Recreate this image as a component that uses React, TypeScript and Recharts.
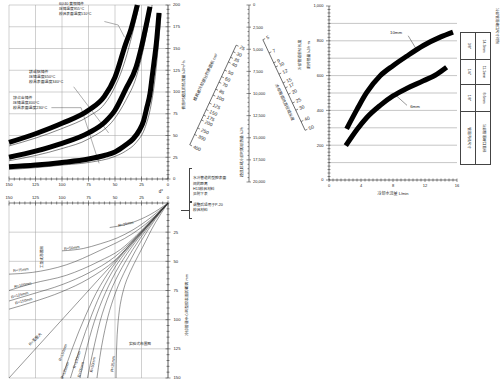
import React from 'react';
import { LineChart, Line, XAxis, YAxis, ReferenceLine } from 'recharts';

const FONT = "'Liberation Sans', 'Noto Sans CJK SC', sans-serif";
const INK = '#222';
const GRID = '#a0a0a0';

// ---------- top-left: mould heat flux vs distance d ----------
const dLabels = [0, 25, 50, 75, 100, 125, 150];
const fluxLabels = [0, 25, 50, 75, 100, 125, 150, 175, 200];

const brass = [
  { d: 150, q: 42 }, { d: 125, q: 52 }, { d: 100, q: 64 }, { d: 75, q: 79 }, { d: 60, q: 95 },
  { d: 50, q: 117 }, { d: 40, q: 155 }, { d: 35, q: 172 }, { d: 29, q: 200 },
];
const lightAlloy = [
  { d: 150, q: 25 }, { d: 125, q: 32 }, { d: 100, q: 41 }, { d: 75, q: 53 }, { d: 60, q: 65 },
  { d: 50, q: 79 }, { d: 40, q: 103 }, { d: 30, q: 129 }, { d: 25, q: 152 }, { d: 20, q: 180 }, { d: 17, q: 198 },
];
const zinc = [
  { d: 150, q: 14 }, { d: 125, q: 16 }, { d: 100, q: 19 }, { d: 75, q: 23 }, { d: 60, q: 27 },
  { d: 50, q: 31 }, { d: 40, q: 39 }, { d: 33, q: 46 }, { d: 27, q: 56 }, { d: 23, q: 67 },
  { d: 20, q: 82 }, { d: 17, q: 98 }, { d: 15, q: 117 }, { d: 13, q: 136 }, { d: 11, q: 156 }, { d: 8.5, q: 191 },
];
// thin curves (P-20 correction)
const brassThin = [
  { d: 150, q: 38 }, { d: 125, q: 47 }, { d: 100, q: 58 }, { d: 75, q: 72 }, { d: 60, q: 86 },
  { d: 50, q: 106 }, { d: 40, q: 138 }, { d: 34, q: 165 }, { d: 30, q: 185 }, { d: 27, q: 200 },
];
const lightAlloyThin = [
  { d: 150, q: 21 }, { d: 125, q: 27 }, { d: 100, q: 35 }, { d: 75, q: 46 }, { d: 50, q: 70 },
  { d: 40, q: 90 }, { d: 30, q: 117 }, { d: 24, q: 145 }, { d: 19, q: 175 }, { d: 15, q: 200 },
];
const zincThin = [
  { d: 150, q: 11 }, { d: 125, q: 13 }, { d: 100, q: 16 }, { d: 75, q: 19 }, { d: 50, q: 26 },
  { d: 40, q: 32 }, { d: 30, q: 42 }, { d: 22, q: 58 }, { d: 16, q: 85 }, { d: 12, q: 118 },
  { d: 9, q: 155 }, { d: 6.5, q: 190 },
];
const brassLeader = [{ d: 60, q: 181 }, { d: 47, q: 177 }, { d: 41, q: 163 }];
const alloyLeader = [{ d: 89, q: 106 }, { d: 56, q: 53 }];
const zincLeader = [{ d: 110, q: 82 }, { d: 82, q: 82 }, { d: 65, q: 18 }];

// ---------- bottom-left: channel depth vs distance, bend radius R ----------
const depthLabels = [25, 50, 75, 100, 125, 150];
const r25Upper = [{ d: 55, z: 21 }, { d: 48, z: 20 }, { d: 33, z: 16.5 }, { d: 17, z: 10 }, { d: 0, z: 0 }];
const r50Upper = [{ d: 100, z: 41 }, { d: 80, z: 39 }, { d: 64, z: 35 }, { d: 48, z: 30 }, { d: 33, z: 23 }, { d: 17, z: 13 }, { d: 0, z: 0 }];
const r75Upper = [{ d: 150, z: 61 }, { d: 128, z: 59.5 }, { d: 96, z: 53 }, { d: 65, z: 41 }, { d: 33, z: 26 }, { d: 17, z: 15 }, { d: 0, z: 0 }];
const r100Upper = [{ d: 150, z: 75 }, { d: 128, z: 69 }, { d: 96, z: 62 }, { d: 65, z: 50 }, { d: 45, z: 40 }, { d: 30, z: 28 }, { d: 15, z: 14 }, { d: 0, z: 0 }];
const r125Upper = [{ d: 150, z: 84 }, { d: 128, z: 78 }, { d: 100, z: 70 }, { d: 75, z: 60 }, { d: 50, z: 46 }, { d: 30, z: 29 }, { d: 15, z: 14.5 }, { d: 0, z: 0 }];
const r150Upper = [{ d: 150, z: 91 }, { d: 128, z: 85 }, { d: 100, z: 76 }, { d: 75, z: 65 }, { d: 50, z: 49 }, { d: 30, z: 29.5 }, { d: 15, z: 15 }, { d: 0, z: 0 }];
const rInfinite = [{ d: 0, z: 0 }, { d: 150, z: 150 }];
const r25Lower = [{ d: 0, z: 0 }, { d: 12, z: 17 }, { d: 24, z: 38 }, { d: 32, z: 52 }, { d: 39, z: 66 }, { d: 44, z: 82 }, { d: 47, z: 101 }, { d: 48.5, z: 125 }, { d: 49, z: 150 }];
const r50Lower = [{ d: 0, z: 0 }, { d: 12, z: 14 }, { d: 25, z: 32 }, { d: 36, z: 50 }, { d: 47, z: 71 }, { d: 55, z: 92 }, { d: 61, z: 115 }, { d: 67, z: 150 }];
const r75Lower = [{ d: 0, z: 0 }, { d: 12, z: 13 }, { d: 26, z: 30 }, { d: 40, z: 50 }, { d: 52, z: 71 }, { d: 62, z: 95 }, { d: 69, z: 120 }, { d: 76, z: 150 }];
const r100Lower = [{ d: 0, z: 0 }, { d: 12, z: 12.5 }, { d: 27, z: 29 }, { d: 42, z: 48 }, { d: 56, z: 71 }, { d: 67, z: 95 }, { d: 76, z: 122 }, { d: 83, z: 150 }];
const r125Lower = [{ d: 0, z: 0 }, { d: 12, z: 12.3 }, { d: 28, z: 29 }, { d: 44, z: 47 }, { d: 60, z: 71 }, { d: 72, z: 96 }, { d: 83, z: 124 }, { d: 92, z: 150 }];
const r150Lower = [{ d: 0, z: 0 }, { d: 12, z: 12.2 }, { d: 29, z: 29.5 }, { d: 46, z: 47 }, { d: 64, z: 71 }, { d: 78, z: 97 }, { d: 90, z: 124 }, { d: 100, z: 150 }];

// ---------- middle nomogram scales ----------
const heatLabels = [0, 2500, 5000, 7500, 10000, 12500, 15000, 17500, 20000];
const areaLabels = [25, 30, 35, 40, 50, 60, 70, 85, 100, 125, 150, 175, 200, 250, 300, 400];
const pipeLabels = [5, 7, 9, 10, 12, 15, 17, 20, 25, 30, 40, 50];

// ---------- right: heat taken up vs coolant flow ----------
const flowLabels = [0, 4, 8, 12, 16];
const absorbLabels = [0, 200, 400, 600, 800, 1000];
const absorbGrid = [100, 200, 300, 400, 500, 600, 700, 800, 900];
const pipe10mm = [
  { f: 2.2, h: 294 }, { f: 3.5, h: 406 }, { f: 4.7, h: 502 }, { f: 6.4, h: 599 }, { f: 8, h: 657 },
  { f: 9.7, h: 711 }, { f: 11.8, h: 773 }, { f: 13.9, h: 821 }, { f: 15.5, h: 850 },
];
const pipe6mm = [
  { f: 2.1, h: 197 }, { f: 3.5, h: 290 }, { f: 4.7, h: 358 }, { f: 6.4, h: 429 }, { f: 8, h: 483 },
  { f: 9.7, h: 526 }, { f: 11.8, h: 570 }, { f: 13.5, h: 609 }, { f: 14.7, h: 648 },
];
const leader10 = [{ f: 9.9, h: 829 }, { f: 11, h: 745 }];
const leader6 = [{ f: 9.75, h: 429 }, { f: 8.4, h: 485 }];
const inchSizes = ['3/8"', '1/4"', '1/8"', '管道内径尺寸'];
const mmSizes = ['14.3mm', '11.1mm', '8.6mm', '冷却管道端口直径'];

const steps = (to: number, step: number) =>
  Array.from({ length: Math.round(to / step) + 1 }, (_, i) => +(i * step).toFixed(2));

type Side = 'left' | 'right' | 'top' | 'bottom';
interface TickOpts {
  side: Side; labels?: number[]; fmt?: (v: number) => string;
  out?: number; outMinor?: number; inn?: number; innMinor?: number; gap?: number; fs?: number;
}

const axisTick = (o: TickOpts) => (p: any) => {
  const v: number = p.payload.value;
  const x: number = p.x;
  const y: number = p.y;
  const major = !o.labels || o.labels.some((l) => Math.abs(l - v) < 1e-6);
  const out = major ? (o.out ?? 3) : (o.outMinor ?? 1.5);
  const inn = major ? (o.inn ?? 0) : (o.innMinor ?? 0);
  const gap = o.gap ?? 1.5;
  const fs = o.fs ?? 4.2;
  const txt = major && o.labels !== undefined && o.labels.length === 0 ? '' : major ? (o.fmt ? o.fmt(v) : String(v)) : '';
  const st = { stroke: INK, strokeWidth: 0.5 };
  if (o.side === 'right' || o.side === 'left') {
    const s = o.side === 'right' ? 1 : -1;
    return (
      <g>
        <line x1={x - s * inn} y1={y} x2={x + s * out} y2={y} {...st} />
        {txt && (
          <text x={x + s * (out + gap)} y={y} dy="0.35em" fontSize={fs} fill={INK} textAnchor={s > 0 ? 'start' : 'end'}>
            {txt}
          </text>
        )}
      </g>
    );
  }
  const s = o.side === 'bottom' ? 1 : -1;
  return (
    <g>
      <line x1={x} y1={y - s * inn} x2={x} y2={y + s * out} {...st} />
      {txt && (
        <text x={x} y={y + s * (out + gap)} dy={s > 0 ? '0.75em' : '0'} fontSize={fs} fill={INK} textAnchor="middle">
          {txt}
        </text>
      )}
    </g>
  );
};

const axisLine = { stroke: INK, strokeWidth: 0.6 };
const noTick = { tickLine: false, tickSize: 0, tickMargin: 0, interval: 0 as const };

const thick = (data: any[], key: string, id: string) => (
  <Line key={id} data={data} dataKey={key} type="monotone" stroke="#000" strokeWidth={5} dot={false} isAnimationActive={false} />
);
const thin = (data: any[], key: string, id: string, type: any = 'monotone', w = 0.6) => (
  <Line key={id} data={data} dataKey={key} type={type} stroke="#333" strokeWidth={w} dot={false} isAnimationActive={false} />
);

const Txt = ({ x, y, rot = 0, fs = 4, children }: any) => (
  <div style={{ position: 'absolute', left: x, top: y, fontSize: fs, lineHeight: 1, whiteSpace: 'nowrap', transform: `translate(-50%, -50%) rotate(${rot}deg)` }}>
    {children}
  </div>
);
const Block = ({ x, y, fs = 4, lh = 5.4, lines }: any) => (
  <div style={{ position: 'absolute', left: x, top: y, fontSize: fs, lineHeight: `${lh}px`, whiteSpace: 'nowrap' }}>
    {lines.map((l: string) => <div key={l}>{l}</div>)}
  </div>
);

function HeatFluxChart() {
  return (
    <div style={{ position: 'absolute', left: 0, top: 0 }}>
      <LineChart width={200} height={200} margin={{ top: 5, right: 0, bottom: 0, left: 9 }}>
        <XAxis dataKey="d" type="number" domain={[0, 150]} reversed ticks={steps(150, 5)} height={21} {...noTick}
          axisLine={axisLine} tick={axisTick({ side: 'bottom', labels: dLabels, out: 2.5, outMinor: 1.5, inn: 2.5, innMinor: 1.5, gap: 1.8 })} />
        <YAxis orientation="right" type="number" domain={[0, 200]} ticks={steps(200, 5)} width={32} {...noTick}
          axisLine={axisLine} tick={axisTick({ side: 'right', labels: fluxLabels, out: 2.5, outMinor: 1.5, inn: 2.5, innMinor: 1.5, gap: 2.5 })} />
        {dLabels.map((v) => <ReferenceLine key={'x' + v} x={v} stroke={GRID} strokeWidth={0.5} />)}
        {fluxLabels.slice(1).map((v) => <ReferenceLine key={'y' + v} y={v} stroke={GRID} strokeWidth={0.5} />)}
        {thin(brassThin, 'q', 'bt')}
        {thin(lightAlloyThin, 'q', 'at')}
        {thin(zincThin, 'q', 'zt')}
        {thin(brassLeader, 'q', 'bl', 'linear', 0.4)}
        {thin(alloyLeader, 'q', 'al', 'linear', 0.4)}
        {thin(zincLeader, 'q', 'zl', 'linear', 0.4)}
        {thick(brass, 'q', 'b')}
        {thick(lightAlloy, 'q', 'a')}
        {thick(zinc, 'q', 'z')}
      </LineChart>
    </div>
  );
}

function LayoutChart() {
  const uppers = [r25Upper, r50Upper, r75Upper, r100Upper, r125Upper, r150Upper];
  const lowers = [r25Lower, r50Lower, r75Lower, r100Lower, r125Lower, r150Lower];
  return (
    <div style={{ position: 'absolute', left: 0, top: 183 }}>
      <LineChart width={200} height={202} margin={{ top: 0, right: 0, bottom: 7, left: 9 }}>
        <XAxis orientation="top" dataKey="d" type="number" domain={[0, 150]} reversed ticks={steps(150, 5)} height={20} {...noTick}
          axisLine={axisLine} tick={axisTick({ side: 'top', labels: dLabels, out: 2.5, outMinor: 1.5, inn: 2.5, innMinor: 1.5, gap: 2 })} />
        <YAxis orientation="right" type="number" domain={[0, 150]} reversed ticks={steps(150, 5)} width={32} {...noTick}
          axisLine={axisLine} tick={axisTick({ side: 'right', labels: depthLabels, out: 2.5, outMinor: 1.5, inn: 2.5, innMinor: 1.5, gap: 3 })} />
        {dLabels.map((v) => <ReferenceLine key={'x' + v} x={v} stroke={GRID} strokeWidth={0.5} />)}
        {depthLabels.map((v) => <ReferenceLine key={'y' + v} y={v} stroke={GRID} strokeWidth={0.5} />)}
        {uppers.map((u, i) => thin(u, 'z', 'u' + i, 'monotoneX', 0.5))}
        {lowers.map((l, i) => thin(l, 'z', 'l' + i, 'monotoneY', 0.5))}
        {thin(rInfinite, 'z', 'inf', 'linear', 0.5)}
      </LineChart>
    </div>
  );
}

function HeatScale() {
  return (
    <div style={{ position: 'absolute', left: 229, top: 0 }}>
      <LineChart width={50} height={190} margin={{ top: 5, right: 0, bottom: 8, left: 19 }} data={heatLabels.map((v) => ({ v }))}>
        <XAxis hide />
        <YAxis orientation="right" type="number" domain={[0, 20000]} reversed ticks={steps(20000, 500)} width={30} {...noTick}
          axisLine={axisLine} tick={axisTick({ side: 'right', labels: heatLabels, fmt: (v) => v.toLocaleString('en-US'), out: 2, outMinor: 0, inn: 2.5, innMinor: 1.5, gap: 2, fs: 4 })} />
        <Line dataKey="v" stroke="none" dot={false} isAnimationActive={false} />
      </LineChart>
      <Txt x={14} y={152} rot={-90} fs={3.8}>模具区域冷却时的总热量 kJ/h</Txt>
    </div>
  );
}

function AreaScale() {
  return (
    <div style={{ position: 'absolute', left: 192.5, top: 30, width: 60, height: 130, transform: 'rotate(25deg)', transformOrigin: '20px 65px' }}>
      <LineChart width={60} height={130} margin={{ top: 10, right: 0, bottom: 10, left: 19 }} data={areaLabels.map((v) => ({ v }))}>
        <XAxis hide />
        <YAxis orientation="right" type="number" scale="log" domain={[25, 400]} allowDataOverflow reversed ticks={areaLabels} width={40} {...noTick}
          axisLine={axisLine} tick={axisTick({ side: 'right', out: 2.5, gap: 1.5, fs: 4.8 })} />
        <Line dataKey="v" stroke="none" dot={false} isAnimationActive={false} />
      </LineChart>
      <Txt x={6} y={52} rot={-90} fs={4}>模具被冷却部分的表面积 cm²</Txt>
    </div>
  );
}

function PipeScale() {
  return (
    <div style={{ position: 'absolute', left: 263.5, top: 25, width: 60, height: 120, transform: 'rotate(-25deg)', transformOrigin: '20px 60px' }}>
      <LineChart width={60} height={120} margin={{ top: 10, right: 0, bottom: 10, left: 19 }} data={pipeLabels.map((v) => ({ v }))}>
        <XAxis hide />
        <YAxis orientation="right" type="number" scale="log" domain={[5, 50]} allowDataOverflow reversed ticks={pipeLabels} width={40} {...noTick}
          axisLine={axisLine} tick={axisTick({ side: 'right', out: 2.5, gap: 1.5, fs: 4.8 })} />
        <Line dataKey="v" stroke="none" dot={false} isAnimationActive={false} />
      </LineChart>
      <Txt x={13} y={76} rot={90} fs={4}>冷却管道的直径或长度</Txt>
    </div>
  );
}

function FlowChart() {
  return (
    <div style={{ position: 'absolute', left: 290, top: 0 }}>
      <LineChart width={180} height={200} margin={{ top: 6, right: 13, bottom: 0, left: 0 }}>
        <XAxis dataKey="f" type="number" domain={[0, 16]} ticks={steps(16, 0.5)} height={20} {...noTick}
          axisLine={axisLine} tick={axisTick({ side: 'bottom', labels: flowLabels, out: 2, outMinor: 1.5, inn: 1.5, innMinor: 1.5, gap: 2, fs: 4 })} />
        <XAxis xAxisId="top" orientation="top" type="number" domain={[0, 16]} ticks={steps(16, 1)} height={0} {...noTick}
          axisLine={axisLine} tick={axisTick({ side: 'top', labels: [], out: 0, inn: 3 })} />
        <YAxis type="number" domain={[0, 1000]} ticks={steps(1000, 20)} width={39} {...noTick}
          axisLine={axisLine} tick={axisTick({ side: 'left', labels: absorbLabels, fmt: (v) => v.toLocaleString('en-US'), out: 3, outMinor: 1.5, inn: 1.5, innMinor: 1.5, gap: 2.5, fs: 4 })} />
        <YAxis yAxisId="r" orientation="right" type="number" domain={[0, 1000]} width={0} tick={false} tickLine={false} axisLine={axisLine} />
        {absorbGrid.map((v) => <ReferenceLine key={v} y={v} stroke={GRID} strokeWidth={0.6} />)}
        {thin(leader10, 'h', 'l10', 'linear', 0.5)}
        {thin(leader6, 'h', 'l6', 'linear', 0.5)}
        {thick(pipe10mm, 'h', 'p10')}
        {thick(pipe6mm, 'h', 'p6')}
      </LineChart>
    </div>
  );
}

function PipeTable() {
  const rows = [26, 25, 27, 53];
  return (
    <div style={{ position: 'absolute', left: 460, top: 32, width: 31, border: '0.6px solid #444', boxSizing: 'border-box' }}>
      {rows.map((h, i) => (
        <div key={i} style={{ display: 'flex', height: h, borderTop: i ? '0.6px solid #444' : 'none', boxSizing: 'border-box' }}>
          {[inchSizes[i], mmSizes[i]].map((t, j) => (
            <div key={j} style={{ flex: 1, position: 'relative', borderLeft: j ? '0.6px solid #444' : 'none' }}>
              <Txt x="50%" y="50%" rot={90} fs={3.6}>{t}</Txt>
            </div>
          ))}
        </div>
      ))}
    </div>
  );
}

export default function App() {
  return (
    <div style={{ position: 'fixed', left: 0, top: 0, width: 500, height: 385, background: '#fff', fontFamily: FONT, color: INK, overflow: 'hidden' }}>
      <HeatFluxChart />
      <LayoutChart />
      <HeatScale />
      <AreaScale />
      <PipeScale />
      <FlowChart />
      <PipeTable />

      {/* top-left notes */}
      <Block x={59} y={1.5} fs={3.7} lh={5.3} lines={['60/40 黄铜铸件', '压铸温度955°C', '模具表面温度510°C']} />
      <Block x={29} y={68.5} fs={3.9} lh={5.4} lines={['镁或铝铸件', '压铸温度650°C', '模具表面温度340°C']} />
      <Block x={13} y={94.5} fs={3.9} lh={5.2} lines={['锌合金铸件', '压铸温度400°C', '模具表面温度230°C']} />
      <Txt x={184} y={85} rot={-90} fs={3.9}>传热时模具的热流量 kJ/m²·h</Txt>
      <Txt x={161} y={192} fs={4.5}>d°</Txt>

      {/* side notes */}
      <div style={{ position: 'absolute', left: 189, top: 168, width: 2, height: 32, borderLeft: '0.6px solid #444', borderTop: '0.6px solid #444', borderBottom: '0.6px solid #444' }} />
      <Block x={193} y={176.3} fs={3.7} lh={5.2} lines={['水冷管道的型腔表面', '间的距离', 'H13模具材料', '见附下表']} />
      <div style={{ position: 'absolute', left: 189, top: 202, width: 2, height: 15, borderLeft: '0.6px solid #444', borderTop: '0.6px solid #444', borderBottom: '0.6px solid #444' }} />
      <div style={{ position: 'absolute', left: 181, top: 210, width: 8, height: 0, borderTop: '0.6px solid #444' }} />
      <Block x={193} y={202.5} fs={3.7} lh={5.3} lines={['调整后适用于P-20', '模具材料']} />

      {/* bottom-left notes */}
      <Txt x={187} y={305} rot={-90} fs={3.9}>冷却管道中心到型腔表面的距离 mm</Txt>
      <Txt x={43} y={257} rot={-90} fs={3.7}>工型式布置图</Txt>
      <Txt x={140} y={345} fs={3.7}>实验式布置图</Txt>
      <Txt x={126} y={225} rot={-12} fs={3.8}>R=25mm</Txt>
      <Txt x={72} y={249} rot={-8} fs={3.8}>R=50mm</Txt>
      <Txt x={21} y={271} rot={-6} fs={3.8}>R=75mm</Txt>
      <Txt x={23} y={286} rot={-12} fs={3.8}>R=100mm</Txt>
      <Txt x={20} y={296} rot={-15} fs={3.8}>R=125mm</Txt>
      <Txt x={24} y={302} rot={-15} fs={3.8}>R=150mm</Txt>
      <Txt x={36} y={340} rot={-45} fs={3.8}>R=无限大</Txt>
      <Txt x={64} y={353} rot={-70} fs={3.8}>R=150mm</Txt>
      <Txt x={66} y={371} rot={-70} fs={3.8}>R=125mm</Txt>
      <Txt x={78} y={360} rot={-72} fs={3.8}>R=100mm</Txt>
      <Txt x={82} y={370} rot={-75} fs={3.8}>R=75mm</Txt>
      <Txt x={94} y={365} rot={-78} fs={3.8}>R=50mm</Txt>
      <Txt x={114} y={364} rot={-84} fs={3.8}>R=25mm</Txt>

      {/* right chart notes */}
      <Txt x={396} y={33} fs={4.3}>10mm</Txt>
      <Txt x={415} y={107} fs={4.3}>6mm</Txt>
      <Txt x={393} y={194} fs={4}>冷却水流量  L/min</Txt>
      <Txt x={301} y={55} rot={-90} fs={3.8}>冷却管道单位长度</Txt>
      <Txt x={310} y={55} rot={-90} fs={3.8}>的传热量 kJ/h·m</Txt>
      <Txt x={496} y={26} rot={90} fs={3.6}>冷却管道端口尺寸对照</Txt>
    </div>
  );
}
